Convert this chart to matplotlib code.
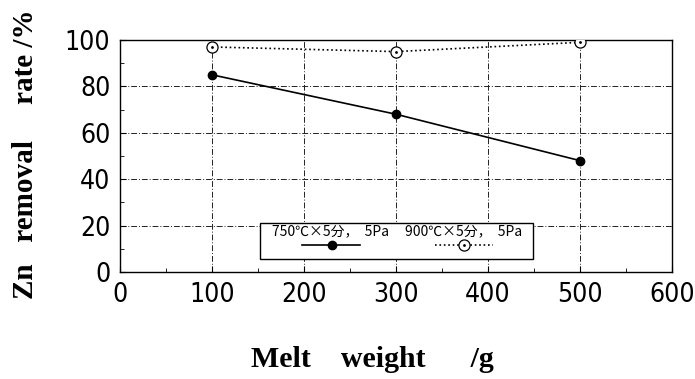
import matplotlib
matplotlib.use("Agg")
import matplotlib.pyplot as plt
from matplotlib.patches import Rectangle

# data
melt_weight = [100, 300, 500]
zn_750 = [85, 68, 48]
zn_900 = [97, 95, 99]
label_750 = "750℃×5分，  5Pa"
label_900 = "900℃×5分，  5Pa"
xticks = [0, 100, 200, 300, 400, 500, 600]
yticks = [0, 20, 40, 60, 80, 100]

tick_font = ["DejaVu Sans"]
cjk_font = ["Noto Sans CJK JP", "DejaVu Sans"]

W, H = 695, 379
fig = plt.figure(figsize=(6.95, 3.79), dpi=100)
ax = fig.add_axes([120 / W, 1 - 272 / H, 552 / W, 232 / H])

ax.set_xlim(0, 600)
ax.set_ylim(0, 100)

# grid
for x in [100, 200, 300, 400, 500]:
    ax.axvline(x, color="#222222", lw=0.7, ls=(0, (6, 2, 1, 2)), zorder=1)
for y in [20, 40, 60, 80]:
    ax.axhline(y, color="#222222", lw=0.7, ls=(0, (6, 2, 1, 2)), zorder=1)

ax.plot(melt_weight, zn_750, color="black", lw=1.2, marker="o", ms=6,
        mfc="black", mec="black", zorder=3)
ax.plot(melt_weight, zn_900, color="black", lw=1.2, ls=":", marker="o", ms=8,
        mfc="white", mec="black", mew=0.9, zorder=3)
ax.plot(melt_weight, zn_900, ls="none", marker=".", ms=2, color="black", zorder=4)

ax.set_xticks(xticks)
ax.set_yticks(yticks)
ax.set_xticks(range(50, 600, 100), minor=True)
ax.set_yticks(range(10, 100, 20), minor=True)
ax.tick_params(direction="in", length=4, width=0.8, labelsize=19, pad=7)
ax.tick_params(which="minor", direction="in", length=3, width=0.6)
for lab in ax.get_xticklabels() + ax.get_yticklabels():
    lab.set_family(tick_font)
    lab.set_stretch("condensed")
for s in ax.spines.values():
    s.set_linewidth(1.0)

# legend drawn by hand: label above sample line
box = Rectangle((0.253, 0.056), 0.495, 0.154, transform=ax.transAxes,
                facecolor="white", edgecolor="black", lw=1.0, zorder=5)
ax.add_patch(box)
ax.text(0.275, 0.177, label_750, transform=ax.transAxes, fontsize=10,
        family=cjk_font, va="center", ha="left", zorder=6)
ax.text(0.516, 0.177, label_900, transform=ax.transAxes, fontsize=10,
        family=cjk_font, va="center", ha="left", zorder=6)
ax.plot([0.330, 0.435], [0.116, 0.116], transform=ax.transAxes, color="black",
        lw=1.2, zorder=6)
ax.plot([0.384], [0.116], transform=ax.transAxes, marker="o", ms=6,
        color="black", zorder=7)
ax.plot([0.570, 0.676], [0.116, 0.116], transform=ax.transAxes, color="black",
        lw=1.2, ls=":", zorder=6)
ax.plot([0.623], [0.116], transform=ax.transAxes, marker="o", ms=8,
        mfc="white", mec="black", mew=0.9, zorder=7)
ax.plot([0.623], [0.116], transform=ax.transAxes, marker=".", ms=2,
        color="black", zorder=8)

fig.text(372 / W, 1 - 367 / H, "Melt    weight      /g", fontsize=21.5,
         fontweight="bold", family="Liberation Serif", ha="center",
         va="baseline")
fig.text(33 / W, 1 - 154 / H, "Zn   removal     rate /%", fontsize=21,
         fontweight="bold", family="Liberation Serif", ha="center",
         va="baseline", rotation=90, rotation_mode="anchor")

fig.savefig("out.png", dpi=100)
